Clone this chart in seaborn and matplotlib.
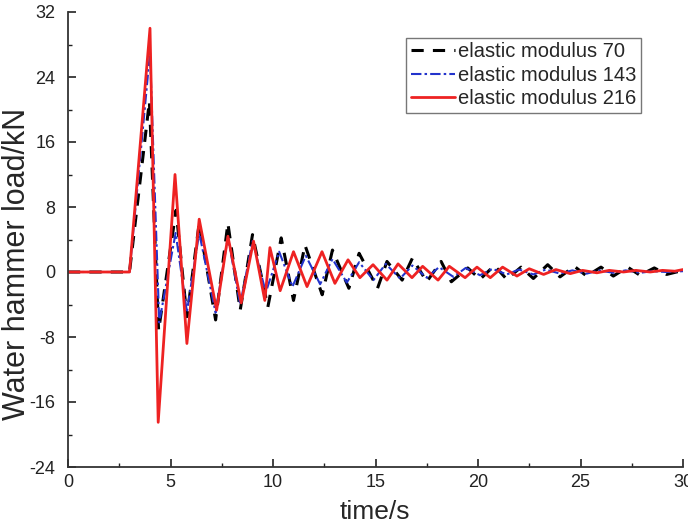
import matplotlib
matplotlib.use("Agg")
import matplotlib.pyplot as plt
from matplotlib.ticker import MultipleLocator
import seaborn as sns
import pandas as pd

# ---- data ----
t_70 = [0, 3.0, 3.97, 4.42, 5.27, 5.8, 6.4, 7.2, 7.8, 8.4, 9.0, 9.75, 10.4, 11.0,
        11.56, 12.4, 12.9, 13.7, 14.2, 15.1, 15.56, 16.3, 16.8, 17.5, 18.2, 18.7,
        19.5, 20.1, 20.8, 21.4, 22.1, 22.7, 23.4, 24.0, 24.7, 25.3, 26.0, 26.6,
        27.3, 27.9, 28.6, 29.2, 30.0]
v_70 = [0, 0, 21.0, -7.2, 7.6, -5.5, 6.0, -5.9, 6.0, -4.7, 4.6, -4.3, 4.2, -3.5,
        3.3, -2.8, 2.7, -2.0, 2.3, -2.0, 1.3, -1.0, 1.7, -1.2, 1.3, -1.2,
        0.5, -0.9, 0.8, -0.9, 0.6, -0.8, 0.9, -0.6, 0.7, -0.5, 0.6, -0.5,
        0.6, -0.4, 0.5, -0.3, 0.2]

t_143 = [0, 3.0, 4.0, 4.45, 5.25, 5.8, 6.4, 7.2, 7.8, 8.4, 9.0, 9.65, 10.3, 10.95,
         11.6, 12.3, 12.9, 13.6, 14.2, 14.9, 15.5, 16.2, 16.8, 17.5, 18.1, 18.8,
         19.4, 20.1, 20.7, 21.4, 22.0, 22.7, 23.3, 24.0, 24.6, 25.3, 25.9, 26.6,
         27.2, 27.9, 28.5, 29.2, 30.0]
v_143 = [0, 0, 27.0, -6.2, 4.8, -4.9, 4.8, -5.0, 4.3, -4.0, 3.8, -2.5, 2.5, -1.8,
         2.0, -1.5, 1.6, -1.3, 1.2, -1.0, 1.0, -0.8, 0.8, -0.7, 0.6, -0.6,
         0.5, -0.4, 0.4, -0.3, 0.3, -0.3, 0.3, -0.2, 0.2, -0.2, 0.2, -0.1,
         0.2, -0.1, 0.1, 0.0, 0.1]

t_216 = [0, 3.0, 4.0, 4.4, 5.22, 5.8, 6.4, 7.25, 7.8, 8.45, 9.05, 9.6, 9.85, 10.35,
         11.0, 11.66, 12.39, 13.02, 13.66, 14.24, 14.88, 15.56, 16.1, 16.78, 17.3,
         18.05, 18.6, 19.37, 19.95, 20.6, 21.2, 21.9, 22.5, 23.2, 23.8, 24.5, 25.1,
         25.8, 26.4, 27.1, 27.7, 28.4, 29.0, 29.6, 30.0]
v_216 = [0, 0, 30.0, -18.5, 12.0, -8.8, 6.5, -4.7, 4.4, -3.8, 3.8, -3.5, 3.0, -2.3,
         2.5, -1.8, 2.5, -1.4, 1.5, -0.7, 0.9, -1.0, 1.0, -0.7, 0.7,
         -1.0, 0.7, -0.7, 0.6, -0.7, 0.6, -0.5, 0.4, -0.3, 0.3, -0.2, 0.2,
         -0.1, 0.2, 0.0, 0.2, 0.0, 0.2, 0.1, 0.3]

labels = ["elastic modulus 70", "elastic modulus 143", "elastic modulus 216"]
x_ticks = [0, 5, 10, 15, 20, 25, 30]
y_ticks = [-24, -16, -8, 0, 8, 16, 24, 32]

sns.set_style("ticks")
plt.rcParams["font.family"] = ["Liberation Sans", "DejaVu Sans"]

W, H = 688, 526
AX_L, AX_R, AX_T, AX_B = 68, 683, 12, 467
fig = plt.figure(figsize=(W / 100, H / 100), dpi=100)
ax = fig.add_axes([AX_L / W, 1 - AX_B / H, (AX_R - AX_L) / W, (AX_B - AX_T) / H])

df70 = pd.DataFrame({"t": t_70, "v": v_70})
df143 = pd.DataFrame({"t": t_143, "v": v_143})
df216 = pd.DataFrame({"t": t_216, "v": v_216})

sns.lineplot(data=df70, x="t", y="v", ax=ax, sort=False, estimator=None,
             color="black", linewidth=2.2, label=labels[0])
sns.lineplot(data=df143, x="t", y="v", ax=ax, sort=False, estimator=None,
             color="#2233cc", linewidth=1.5, label=labels[1])
sns.lineplot(data=df216, x="t", y="v", ax=ax, sort=False, estimator=None,
             color="#ee2222", linewidth=2.0, label=labels[2])
ax.lines[0].set_dashes([4, 3])
ax.lines[1].set_dashes([5, 1.5, 1.2, 1.5])

ax.set_xlim(0, 30)
ax.set_ylim(-24, 32)
ax.set_xticks(x_ticks)
ax.set_yticks(y_ticks)
ax.set_yticklabels([str(v) for v in y_ticks])
ax.xaxis.set_minor_locator(MultipleLocator(2.5))
ax.yaxis.set_minor_locator(MultipleLocator(4))
ax.tick_params(which="both", direction="in", labelsize=13, colors="#222222")
ax.tick_params(which="major", length=6, width=1.2)
ax.tick_params(axis="y", which="major", pad=9)
ax.tick_params(axis="x", which="major", pad=5)
ax.tick_params(which="minor", length=3, width=1.0)
for s in ["top", "right"]:
    ax.spines[s].set_visible(False)
for s in ["left", "bottom"]:
    ax.spines[s].set_linewidth(1.3)
    ax.spines[s].set_color("#333333")

pw, ph = AX_R - AX_L, AX_B - AX_T
ax.set_xlabel("time/s", fontsize=19)
ax.xaxis.set_label_coords((375 - AX_L) / pw, -(500 - AX_B) / ph)
ax.set_ylabel("Water hammer load/kN", fontsize=22)
ax.yaxis.set_label_coords(-(AX_L - 32) / pw, (AX_B - 264) / ph)

handles, labs = ax.get_legend_handles_labels()
ax.get_legend().remove()
leg = fig.legend(handles, labs, loc="upper right",
                 bbox_to_anchor=(641 / W, 1 - 38 / H),
                 fontsize=14.5, handlelength=2.2, handletextpad=0.15,
                 labelspacing=0.22, borderpad=0.22, borderaxespad=0,
                 frameon=True, fancybox=False)
leg.get_frame().set_edgecolor("#555555")
leg.get_frame().set_linewidth(1.0)

fig.savefig("out.png", dpi=100)
